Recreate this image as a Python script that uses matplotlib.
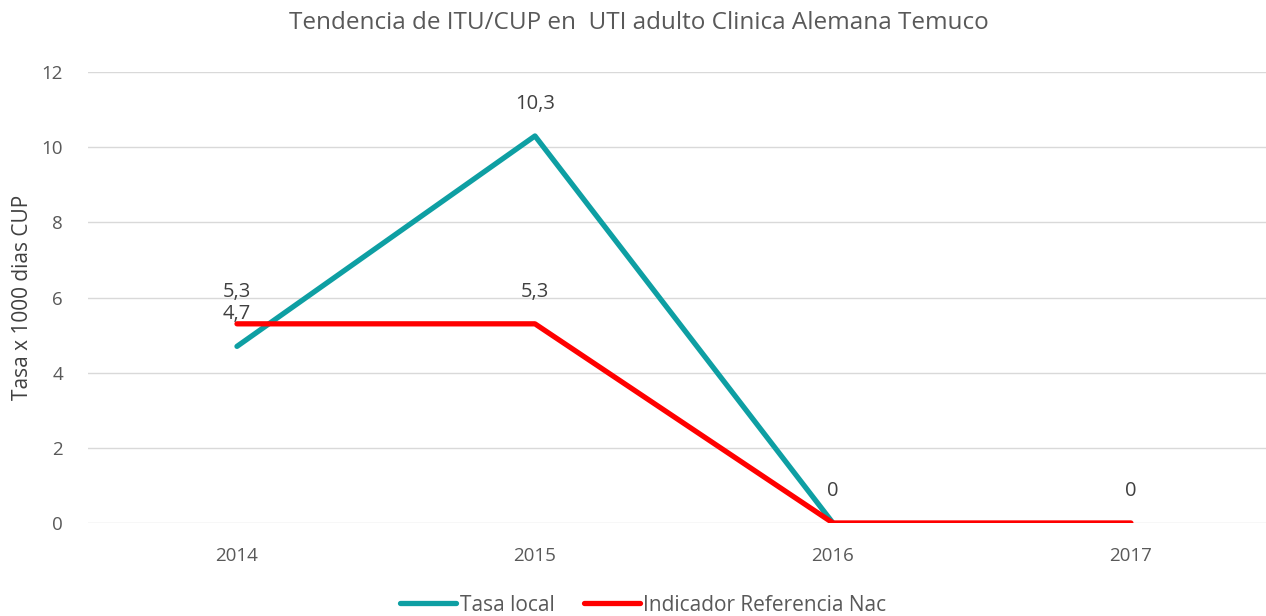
import numpy as np
import matplotlib.pyplot as plt

# datos
anios = ['2014', '2015', '2016', '2017']
tasa_local = [4.7, 10.3, 0, np.nan]
indicador_ref = [5.3, 5.3, 0, 0]
etiquetas_local = ['4,7', '10,3', '0', '']
etiquetas_ref = ['5,3', '5,3', '', '0']

plt.rcParams['font.family'] = ['Open Sans', 'DejaVu Sans']

fig = plt.figure(figsize=(12.66, 6.16), dpi=100)
ax = fig.add_axes([0.0695, 0.151, 0.9415, 0.732])

x = np.arange(len(anios))
teal = '#0E9FA3'
red = '#FF0000'

ax.plot(x, tasa_local, color=teal, lw=3.8, solid_capstyle='round', label='Tasa local', zorder=3)
ax.plot(x, indicador_ref, color=red, lw=3.8, solid_capstyle='round', label='Indicador Referencia Nac', zorder=4)

# etiquetas de datos
for serie, etiquetas in [(tasa_local, etiquetas_local), (indicador_ref, etiquetas_ref)]:
    for xi, v, t in zip(x, serie, etiquetas):
        if t:
            ax.annotate(t, (xi, v), xytext=(0, 16), textcoords='offset points',
                        ha='center', va='bottom', fontsize=14.5, color='#404040')

ax.set_xlim(-0.5, 3.5)
ax.set_ylim(0, 12)
ax.set_yticks(range(0, 13, 2))
ax.set_xticks(x)
ax.set_xticklabels(anios)
ax.grid(axis='y', color='#d9d9d9', lw=1)
ax.set_axisbelow(True)
for s in ax.spines.values():
    s.set_visible(False)
ax.tick_params(length=0, labelsize=13.5, labelcolor='#595959')
ax.tick_params(axis='x', pad=17)
ax.tick_params(axis='y', pad=18)

ax.set_ylabel('Tasa x 1000 dias CUP', fontsize=15, color='#404040', labelpad=6)
fig.text(0.505, 0.962, 'Tendencia de ITU/CUP en  UTI adulto Clinica Alemana Temuco',
         ha='center', va='center', fontsize=17.5, color='#595959')

fig.legend(loc='lower center', bbox_to_anchor=(0.508, -0.03), ncol=2, frameon=False,
           fontsize=15, labelcolor='#595959', handlelength=2.7, handletextpad=0.15,
           columnspacing=1.4)

fig.savefig('out.png', dpi=100)
